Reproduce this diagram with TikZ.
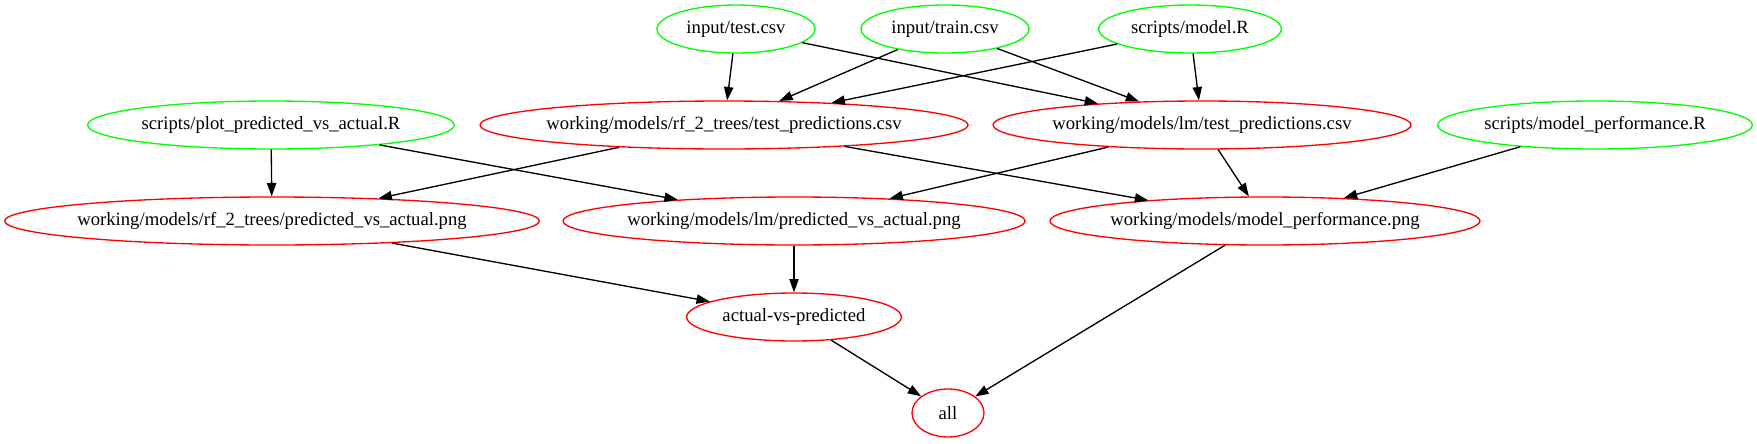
\documentclass[tikz,border=0pt]{standalone}
\usepackage{fontspec}
\setmainfont{Liberation Serif}
\usetikzlibrary{arrows.meta,shapes.geometric}

\begin{document}
\begin{tikzpicture}[x=0.75pt, y=-0.75pt, >={Triangle[length=10pt,width=7pt]},
  every node/.style={ellipse, minimum height=36pt, inner xsep=-20pt, inner ysep=2pt, line width=1pt, font=\fontsize{14}{16}\selectfont},
  given/.style={draw=green}, made/.style={draw=red}]
  \useasboundingbox (0,0) rectangle (1757,443);
  \node[given, minimum width=118.5pt] (test)  at (736,29)  {input/test.csv};
  \node[given, minimum width=126pt]   (train) at (945,29)  {input/train.csv};
  \node[given, minimum width=137pt]   (model) at (1190,29) {scripts/model.R};
  \node[given, minimum width=275pt]   (plotR) at (271,125) {scripts/plot\_predicted\_vs\_actual.R};
  \node[made,  minimum width=366pt]   (rftp)  at (724,125) {working/models/rf\_2\_trees/test\_predictions.csv};
  \node[made,  minimum width=313.5pt] (lmtp)  at (1202,125) {working/models/lm/test\_predictions.csv};
  \node[given, minimum width=236pt]   (perfR) at (1595,125) {scripts/model\_performance.R};
  \node[made,  minimum width=401pt]   (rfpva) at (272,221) {working/models/rf\_2\_trees/predicted\_vs\_actual.png};
  \node[made,  minimum width=346.5pt] (lmpva) at (794,221) {working/models/lm/predicted\_vs\_actual.png};
  \node[made,  minimum width=322.5pt] (perf)  at (1265,221) {working/models/model\_performance.png};
  \node[made,  minimum width=161pt]   (avp)   at (794,317) {actual-vs-predicted};
  \node[made,  minimum width=54pt]    (all)   at (948,413) {all};
  \path[->, line width=1pt]
  (test) edge (rftp) edge (lmtp)
  (train) edge (rftp) edge (lmtp)
  (model) edge (rftp) edge (lmtp)
  (plotR) edge (rfpva) edge (lmpva)
  (rftp) edge (rfpva) edge (perf)
  (lmtp) edge (lmpva) edge (perf)
  (perfR) edge (perf)
  (rfpva) edge (avp)
  (lmpva) edge (avp)
  (avp) edge (all)
  (perf) edge (all)
  ;
\end{tikzpicture}
\end{document}
